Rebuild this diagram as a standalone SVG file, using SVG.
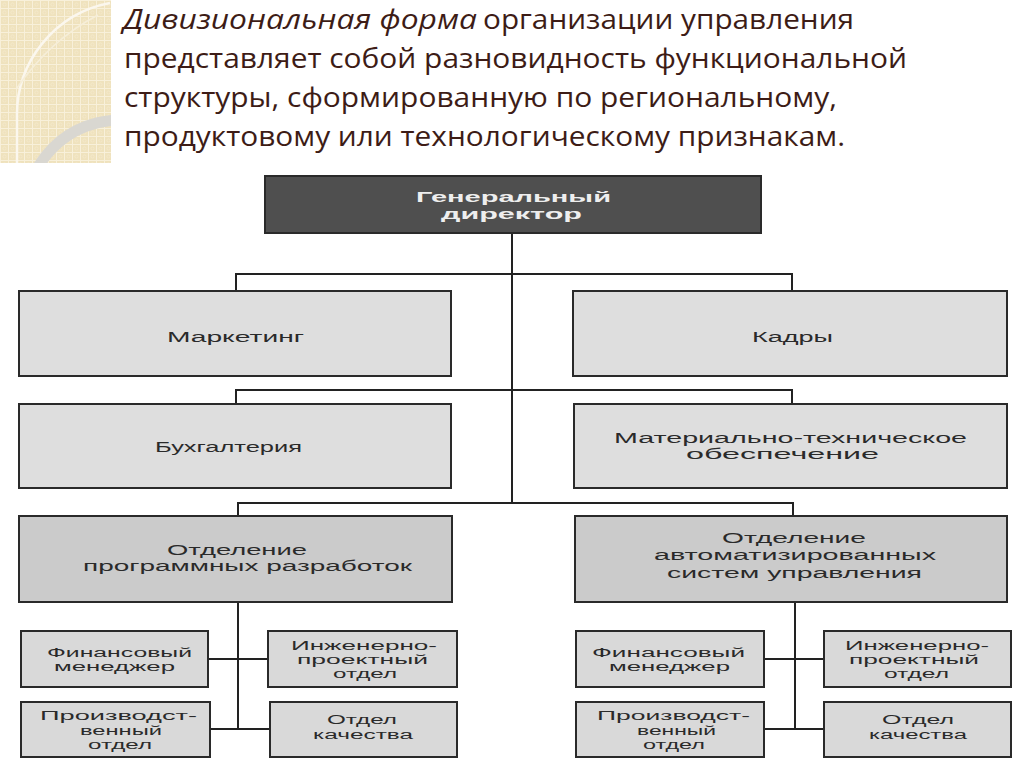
<svg xmlns="http://www.w3.org/2000/svg" width="1024" height="767" viewBox="0 0 1024 767">
<defs>
<pattern id="grid" width="8" height="8" patternUnits="userSpaceOnUse">
<rect width="8" height="8" fill="#efe2bd"/>
<path d="M0 0.5H8M0.5 0V8" stroke="#f8f0da" stroke-width="1"/>
<circle cx="4.5" cy="4.5" r="1.6" fill="none" stroke="#f5ebd0" stroke-width="0.6"/>
</pattern>
<clipPath id="corner"><rect x="0" y="0" width="111" height="163"/></clipPath>
</defs>
<style>
.title{font-family:"Open Sans","Noto Sans",sans-serif;font-size:27px;fill:#3d1c16}
.it{font-style:italic}
.box{stroke:#2a2a2a;stroke-width:2}
.lt{fill:#dedede}
.md{fill:#cbcbcb}
.sm{fill:#d9d9d9}
.dk{fill:#4f4f4f}
.t{font-family:"Liberation Sans",Arial,sans-serif;font-size:14px;fill:#2a2a2a}
.s{font-size:12.5px}
.tw{font-family:"Liberation Sans",Arial,sans-serif;font-size:14px;fill:#eeeeee;font-weight:bold}
.c{fill:none;stroke:#222;stroke-width:2}
</style>
<rect width="1024" height="767" fill="#ffffff"/>
<g id="decor" clip-path="url(#corner)">
<rect x="0" y="0" width="111" height="163" fill="url(#grid)"/>
<path d="M110 3 A114 114 0 0 0 17 118 L17 170" fill="none" stroke="#fbf7ee" stroke-width="2.5"/>
<path d="M17 88 Q50 40 98 15" fill="none" stroke="#f6eed8" stroke-width="1.5"/>
<circle cx="120" cy="215" r="95" fill="none" stroke="#d9d7d1" stroke-width="11"/>
</g>
<g id="title">
<text class="title it" x="123" y="29" textLength="354" lengthAdjust="spacingAndGlyphs">Дивизиональная форма</text>
<text class="title" x="483" y="29" textLength="371" lengthAdjust="spacingAndGlyphs">организации управления</text>
<text class="title" x="124" y="68" textLength="783" lengthAdjust="spacingAndGlyphs">представляет собой разновидность функциональной</text>
<text class="title" x="124" y="107" textLength="713" lengthAdjust="spacingAndGlyphs">структуры, сформированную по региональному,</text>
<text class="title" x="124" y="146" textLength="721" lengthAdjust="spacingAndGlyphs">продуктовому или технологическому признакам.</text>
</g>
<g id="connectors">
<path class="c" d="M512 233V503"/>
<path class="c" d="M236 290V274H792V290"/>
<path class="c" d="M236 404V390H792V404"/>
<path class="c" d="M238 516V503H793V516"/>
<path class="c" d="M238 602V729"/>
<path class="c" d="M208 659H268"/>
<path class="c" d="M210 729H270"/>
<path class="c" d="M795 602V729"/>
<path class="c" d="M764 659H824"/>
<path class="c" d="M764 729H824"/>
</g>
<g id="n-director">
<rect class="box dk" x="265" y="176" width="496" height="57"/>
<text class="tw" x="416" y="202" textLength="195" lengthAdjust="spacingAndGlyphs">Генеральный</text>
<text class="tw" x="441" y="219" textLength="141" lengthAdjust="spacingAndGlyphs">директор</text>
</g>
<g id="n-marketing">
<rect class="box lt" x="19" y="291" width="432" height="85"/>
<text class="t" x="167" y="342" textLength="137" lengthAdjust="spacingAndGlyphs">Маркетинг</text>
</g>
<g id="n-kadry">
<rect class="box lt" x="573" y="291" width="434" height="85"/>
<text class="t" x="752" y="342" textLength="81" lengthAdjust="spacingAndGlyphs">Кадры</text>
</g>
<g id="n-buh">
<rect class="box lt" x="19" y="404" width="432" height="84"/>
<text class="t" x="155" y="452" textLength="147" lengthAdjust="spacingAndGlyphs">Бухгалтерия</text>
</g>
<g id="n-mto">
<rect class="box lt" x="574" y="404" width="433" height="84"/>
<text class="t" x="614" y="443" textLength="353" lengthAdjust="spacingAndGlyphs">Материально-техническое</text>
<text class="t" x="686" y="459" textLength="193" lengthAdjust="spacingAndGlyphs">обеспечение</text>
</g>
<g id="n-prog">
<rect class="box md" x="19" y="516" width="433" height="86"/>
<text class="t" x="167" y="555" textLength="140" lengthAdjust="spacingAndGlyphs">Отделение</text>
<text class="t" x="83" y="571" textLength="329" lengthAdjust="spacingAndGlyphs">программных разработок</text>
</g>
<g id="n-asu">
<rect class="box md" x="575" y="516" width="432" height="86"/>
<text class="t" x="722" y="543" textLength="144" lengthAdjust="spacingAndGlyphs">Отделение</text>
<text class="t" x="654" y="560" textLength="282" lengthAdjust="spacingAndGlyphs">автоматизированных</text>
<text class="t" x="667" y="578" textLength="255" lengthAdjust="spacingAndGlyphs">систем управления</text>
</g>
<g id="n-fin-l">
<rect class="box sm" x="21" y="631" width="187" height="56"/>
<text class="t s" x="47" y="657" textLength="145" lengthAdjust="spacingAndGlyphs">Финансовый</text>
<text class="t s" x="54" y="671" textLength="121" lengthAdjust="spacingAndGlyphs">менеджер</text>
</g>
<g id="n-eng-l">
<rect class="box sm" x="268" y="631" width="189" height="56"/>
<text class="t s" x="291" y="650" textLength="146" lengthAdjust="spacingAndGlyphs">Инженерно-</text>
<text class="t s" x="297" y="664" textLength="131" lengthAdjust="spacingAndGlyphs">проектный</text>
<text class="t s" x="333" y="678" textLength="64" lengthAdjust="spacingAndGlyphs">отдел</text>
</g>
<g id="n-prod-l">
<rect class="box sm" x="21" y="702" width="189" height="55"/>
<text class="t s" x="40" y="720" textLength="157" lengthAdjust="spacingAndGlyphs">Производст-</text>
<text class="t s" x="80" y="735" textLength="82" lengthAdjust="spacingAndGlyphs">венный</text>
<text class="t s" x="88" y="749" textLength="64" lengthAdjust="spacingAndGlyphs">отдел</text>
</g>
<g id="n-qual-l">
<rect class="box sm" x="270" y="702" width="187" height="55"/>
<text class="t s" x="327" y="724" textLength="70" lengthAdjust="spacingAndGlyphs">Отдел</text>
<text class="t s" x="313" y="739" textLength="100" lengthAdjust="spacingAndGlyphs">качества</text>
</g>
<g id="n-fin-r">
<rect class="box sm" x="576" y="631" width="188" height="56"/>
<text class="t s" x="592" y="657" textLength="153" lengthAdjust="spacingAndGlyphs">Финансовый</text>
<text class="t s" x="609" y="671" textLength="121" lengthAdjust="spacingAndGlyphs">менеджер</text>
</g>
<g id="n-eng-r">
<rect class="box sm" x="824" y="631" width="187" height="56"/>
<text class="t s" x="845" y="650" textLength="144" lengthAdjust="spacingAndGlyphs">Инженерно-</text>
<text class="t s" x="849" y="664" textLength="130" lengthAdjust="spacingAndGlyphs">проектный</text>
<text class="t s" x="884" y="678" textLength="65" lengthAdjust="spacingAndGlyphs">отдел</text>
</g>
<g id="n-prod-r">
<rect class="box sm" x="576" y="702" width="188" height="55"/>
<text class="t s" x="597" y="720" textLength="153" lengthAdjust="spacingAndGlyphs">Производст-</text>
<text class="t s" x="637" y="735" textLength="79" lengthAdjust="spacingAndGlyphs">венный</text>
<text class="t s" x="643" y="749" textLength="62" lengthAdjust="spacingAndGlyphs">отдел</text>
</g>
<g id="n-qual-r">
<rect class="box sm" x="824" y="702" width="187" height="55"/>
<text class="t s" x="882" y="724" textLength="72" lengthAdjust="spacingAndGlyphs">Отдел</text>
<text class="t s" x="869" y="739" textLength="98" lengthAdjust="spacingAndGlyphs">качества</text>
</g>
</svg>
